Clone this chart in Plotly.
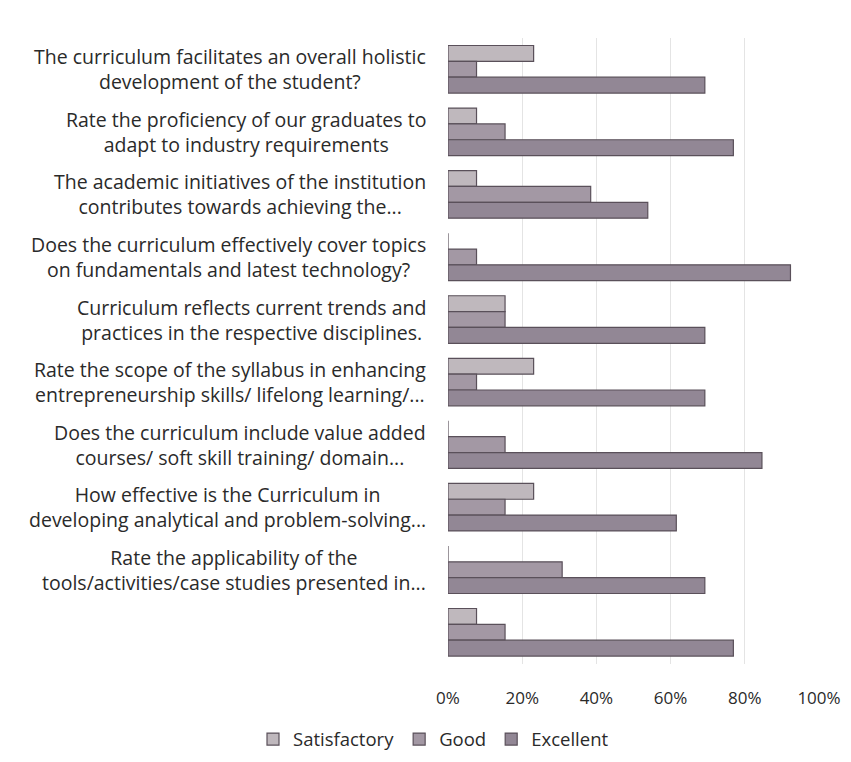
import plotly.graph_objects as go

# Survey questions, top to bottom (the last one has no label in the source)
questions = [
    "The curriculum facilitates an overall holistic<br>development of the student?",
    "Rate the proficiency of our graduates to<br>adapt to industry requirements",
    "The academic initiatives of the institution<br>contributes towards achieving the...",
    "Does the curriculum effectively cover topics<br>on fundamentals and latest technology?",
    "Curriculum reflects current trends and<br>practices in the respective disciplines.",
    "Rate the scope of the syllabus in enhancing<br>entrepreneurship skills/ lifelong learning/...",
    "Does the curriculum include value added<br>courses/ soft skill training/ domain...",
    "How effective is the Curriculum in<br>developing analytical and problem-solving...",
    "Rate the applicability of the<br>tools/activities/case studies presented in...",
    " ",
]

satisfactory = [0.2308, 0.0769, 0.0769, 0.0, 0.1538, 0.2308, 0.0, 0.2308, 0.0, 0.0769]
good = [0.0769, 0.1538, 0.3846, 0.0769, 0.1538, 0.0769, 0.1538, 0.1538, 0.3077, 0.1538]
excellent = [0.6923, 0.7692, 0.5385, 0.9231, 0.6923, 0.6923, 0.8462, 0.6154, 0.6923, 0.7692]

series = [
    ("Satisfactory", satisfactory, "#bfb8bd"),
    ("Good", good, "#a398a4"),
    ("Excellent", excellent, "#928795"),
]

FONT = "'Open Sans', Lato, sans-serif"
TEXT = "#2a2a2a"

fig = go.Figure()
for name, vals, color in series:
    fig.add_trace(go.Bar(
        y=questions, x=vals, name=name, orientation="h",
        marker=dict(color=color, line=dict(color="#5a505a", width=1.2)),
    ))

# centred, wrapped question labels like the original spreadsheet chart
for q in questions:
    fig.add_annotation(
        x=0, xref="paper", y=q, yref="y", text=q, showarrow=False,
        xanchor="right", xshift=-20, align="center",
        font=dict(family=FONT, size=19.5, color=TEXT),
    )

fig.update_layout(
    width=851, height=762,
    paper_bgcolor="white", plot_bgcolor="white",
    barmode="group", bargap=0.24, bargroupgap=0,
    margin=dict(l=440, r=40, t=30, b=100),
    font=dict(family=FONT, size=17, color=TEXT),
    legend=dict(
        orientation="h", xref="container", yref="container",
        x=0.5, xanchor="center", y=0.015, yanchor="bottom",
        font=dict(family=FONT, size=18.5, color=TEXT),
        traceorder="normal",
    ),
)
fig.update_xaxes(
    range=[0, 1], dtick=0.2, tickformat=".0%",
    showgrid=True, gridcolor="#e4e4e4", zeroline=False,
    ticklabelstandoff=22, tickfont=dict(size=17, color=TEXT),
)
fig.update_yaxes(autorange="reversed", showticklabels=False, showgrid=False)

fig.write_html("out.html")
